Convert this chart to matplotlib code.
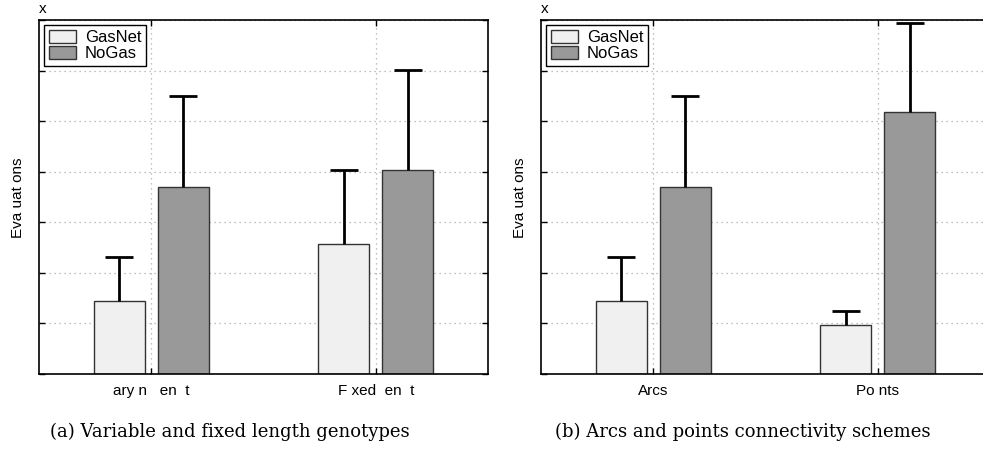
import numpy as np
import matplotlib
matplotlib.use("Agg")
import matplotlib.pyplot as plt

plt.rcParams["font.family"] = ["Liberation Sans", "DejaVu Sans"]

# --- data (units of the hidden 10^n axis) ---
series_names = ["GasNet", "NoGas"]
series_colors = ["#f0f0f0", "#999999"]

labels_a = ["ary n   en  t", "F xed  en  t"]
gasnet_a = [1.44, 2.57]
gasnet_a_err = [0.87, 1.47]
nogas_a = [3.70, 4.03]
nogas_a_err = [1.79, 1.98]

labels_b = ["Arcs", "Po nts"]
gasnet_b = [1.44, 0.97]
gasnet_b_err = [0.87, 0.27]
nogas_b = [3.70, 5.18]
nogas_b_err = [1.79, 1.76]

captions = ["(a) Variable and fixed length genotypes",
            "(b) Arcs and points connectivity schemes"]

fig = plt.figure(figsize=(9.83, 4.65), dpi=100)


def draw_panel(ax, labels, gas, gas_err, nogas, nogas_err):
    x = np.arange(1, len(labels) + 1)
    width = 0.227
    offset = 0.142
    for vals, errs, sign, color, name in [
        (gas, gas_err, -1, series_colors[0], series_names[0]),
        (nogas, nogas_err, 1, series_colors[1], series_names[1]),
    ]:
        ax.bar(x + sign * offset, vals, width, color=color,
               edgecolor="#333333", linewidth=1.0, label=name, zorder=3)
        eb = ax.errorbar(x + sign * offset, vals,
                         yerr=[np.zeros(len(vals)), errs], fmt="none",
                         ecolor="black", elinewidth=2, capsize=10,
                         capthick=2, zorder=4)
        # one-sided bars: hide the cap sitting on the bar top
        eb[1][0].set_visible(False)
    ax.set_xlim(0.5, 2.5)
    ax.set_ylim(0, 7)
    ax.set_xticks(x)
    ax.set_xticklabels(labels, fontsize=11)
    ax.set_yticks(np.arange(0, 8))
    ax.set_yticklabels([])
    ax.tick_params(direction="in", top=True, right=True, length=4,
                   width=1, pad=7)
    ax.grid(True, linestyle=(0, (1, 3)), color="#aaaaaa", linewidth=0.9,
            zorder=0)
    for s in ax.spines.values():
        s.set_linewidth(1.2)
        s.set_zorder(5)
    leg = ax.legend(loc="upper left", fontsize=12, frameon=True,
                    fancybox=False, edgecolor="black", framealpha=1,
                    borderpad=0.3, handlelength=1.6, handleheight=0.8,
                    handletextpad=0.55, labelspacing=0.05,
                    borderaxespad=0.3)
    leg.get_frame().set_linewidth(1.0)
    leg.set_zorder(6)
    ax.text(0.0, 1.012, "x", transform=ax.transAxes, fontsize=11,
            ha="left", va="bottom")


ax1 = fig.add_axes([39 / 983, 91 / 465, 449 / 983, 354 / 465])
draw_panel(ax1, labels_a, gasnet_a, gasnet_a_err, nogas_a, nogas_a_err)
ax2 = fig.add_axes([541 / 983, 91 / 465, 449 / 983, 354 / 465])
draw_panel(ax2, labels_b, gasnet_b, gasnet_b_err, nogas_b, nogas_b_err)

for xpos in [18 / 983, 520 / 983]:
    fig.text(xpos, (465 - 198) / 465, "Eva uat ons",
             rotation=90, ha="center", va="center", fontsize=11)

fig.text(50 / 983, 1 - 432 / 465, captions[0], ha="left", va="center",
         fontsize=13, family=["DejaVu Serif"])
fig.text(555 / 983, 1 - 432 / 465, captions[1], ha="left", va="center",
         fontsize=13, family=["DejaVu Serif"])

fig.savefig("out.png", dpi=100)
